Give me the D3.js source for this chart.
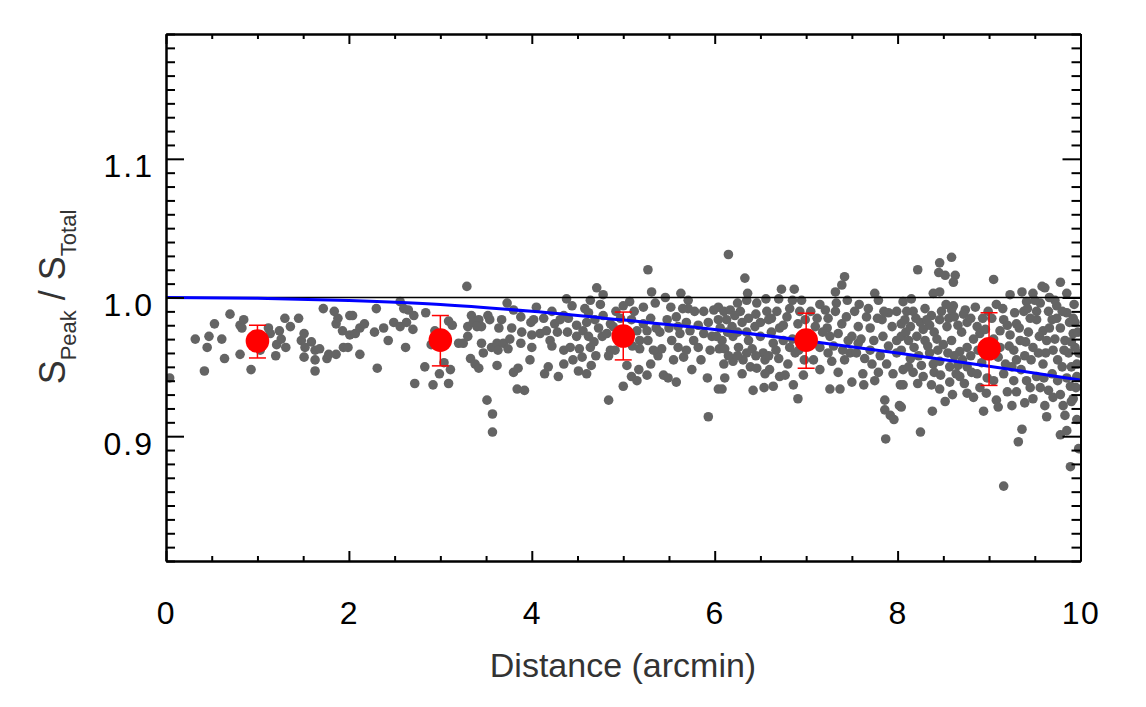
<!DOCTYPE html>
<html><head><meta charset="utf-8">
<script src="https://cdn.jsdelivr.net/npm/d3@7"></script>
<style>html,body{margin:0;padding:0;background:#fff;} svg{display:block;font-family:"Liberation Sans",Arial,Helvetica,sans-serif;}</style>
</head><body><svg id="chart" width="1146" height="707"></svg>
<script>
const xMajorTicks = [0, 2, 4, 6, 8, 10];
const xTickLabels = ["0", "2", "4", "6", "8", "10"];
const yMajorTicks = [0.9, 1.0, 1.1];
const yTickLabels = ["0.9", "1.0", "1.1"];
const binCenters = [1, 3, 5, 7, 9];
const binMeans = [0.9686, 0.9693, 0.9722, 0.9693, 0.963];
const binLow = [0.9564, 0.9507, 0.955, 0.949, 0.9366];
const binHigh = [0.980, 0.987, 0.9895, 0.9887, 0.989];
const modelDist = [0, 1, 2, 3, 4, 5, 6, 7, 8, 9, 10];
const modelRatio = [1.0, 0.9994, 0.9978, 0.995, 0.990, 0.9837, 0.977, 0.9688, 0.960, 0.9505, 0.9404];
const referenceLevel = 1.0;
const grayPoints = [
[0.04,0.942],[0.32,0.970],[0.42,0.947],[0.45,0.964],[0.47,0.972],[0.53,0.981],[0.61,0.970],[0.64,0.956],[0.70,0.988],[0.81,0.959],
[0.81,0.980],[0.85,0.984],[0.83,0.978],[0.93,0.948],[1.03,0.962],[1.12,0.978],[1.14,0.974],[1.20,0.958],[1.21,0.966],[1.24,0.976],
[1.26,0.970],[1.30,0.985],[1.31,0.964],[1.36,0.979],[1.45,0.985],[1.48,0.969],[1.51,0.974],[1.51,0.957],[1.52,0.964],[1.59,0.968],
[1.63,0.962],[1.63,0.955],[1.63,0.947],[1.68,0.963],[1.72,0.992],[1.76,0.956],[1.78,0.959],[1.84,0.990],[1.86,0.981],[1.88,0.985],
[1.86,0.959],[1.93,0.976],[1.94,0.964],[1.99,0.964],[2.01,0.987],[2.01,0.973],
[3.29,1.008],[2.56,0.997],[2.60,0.992],[2.65,0.991],[2.71,0.987],[2.30,0.992],[2.04,0.987],[2.07,0.974],[2.12,0.978],[2.17,0.981],
[2.12,0.959],[2.28,0.975],[2.38,0.978],[2.43,0.969],[2.49,0.982],[2.56,0.979],[2.63,0.982],[2.70,0.977],[2.62,0.964],[2.31,0.949],
[2.84,0.989],[2.90,0.966],[2.94,0.976],[2.83,0.950],[2.72,0.938],[2.92,0.937],[2.99,0.945],[3.04,0.953],[3.09,0.938],[3.11,0.948],
[3.09,0.983],[3.13,0.980],[3.20,0.967],[3.25,0.967],[3.30,0.972],[3.30,0.979],[3.34,0.987],[3.36,0.982],[3.42,0.984],[3.45,0.979],
[3.40,0.979],[3.33,0.956],[3.38,0.952],[3.42,0.949],[3.45,0.967],[3.47,0.960],[3.52,0.987],[3.54,0.984],[3.56,0.964],[3.62,0.967],
[3.63,0.962],[3.64,0.978],[3.67,0.984],[3.73,0.996],[3.69,0.967],[3.74,0.963],[3.78,0.978],[3.76,0.970],[3.80,0.991],[3.88,0.986],
[3.89,0.975],[3.88,0.967],[3.62,0.951],[3.80,0.946],[3.85,0.949],[3.84,0.934],[3.92,0.933],[3.51,0.926],[3.57,0.916],[3.57,0.903],
[3.99,0.982],[4.00,0.973],[4.00,0.964],[3.98,0.955],
[5.27,1.020],[4.71,1.007],[4.78,1.002],[4.64,0.998],[4.38,0.999],[4.44,0.994],[5.31,1.004],[5.35,0.996],[5.46,1.000],[5.63,1.003],
[5.71,0.998],[5.71,0.992],[5.07,0.997],[5.00,0.994],[5.22,0.993],[4.02,0.984],[4.13,0.985],[4.09,0.974],[4.16,0.976],[4.20,0.969],
[4.22,0.965],[4.25,0.981],[4.31,0.984],[4.35,0.987],[4.39,0.975],[4.35,0.962],[4.42,0.964],[4.49,0.972],[4.52,0.963],[4.55,0.957],
[4.49,0.980],[4.56,0.976],[4.60,0.982],[4.62,0.972],[4.64,0.964],[4.62,0.989],[4.69,0.984],[4.73,0.978],[4.77,0.972],[4.78,0.987],
[4.86,0.981],[4.82,0.974],[4.86,0.962],[4.84,0.958],[4.91,0.962],[4.89,0.979],[5.09,0.984],[5.15,0.976],[5.18,0.969],[5.18,0.963],
[5.22,0.981],[5.26,0.976],[5.27,0.969],[5.04,0.951],[5.17,0.948],[5.09,0.943],[5.15,0.940],[5.26,0.944],[5.00,0.936],[4.84,0.926],
[4.65,0.951],[4.51,0.947],[4.29,0.943],[4.14,0.945],[4.18,0.950],[5.38,0.958],[5.42,0.963],[5.44,0.944],[5.49,0.942],[5.58,0.939],
[5.40,0.975],[5.48,0.984],[5.53,0.969],[5.58,0.986],[5.60,0.979],[5.62,0.974],[5.60,0.964],[5.66,0.957],[5.69,0.982],[5.73,0.976],
[5.77,0.969],[5.69,0.962],[5.75,0.948],[5.82,0.964],[5.88,0.990],[5.88,0.974],[5.93,0.982],[5.97,0.972],[5.99,0.991],[5.92,0.942],
[5.93,0.914],[6.04,0.984],[6.05,0.963],[6.04,0.934],
[4.05,0.993],[4.22,0.990],[4.28,0.975],[4.40,0.985],[4.45,0.955],[4.58,0.992],[4.68,0.968],[4.70,0.958],[4.75,0.995],[4.92,0.990],
[4.95,0.972],[4.97,0.985],[5.05,0.975],[5.10,0.965],[5.12,0.990],[5.30,0.985],[5.33,0.962],[5.36,0.978],[5.50,0.978],[5.52,0.993],
[5.65,0.992],[5.78,0.990],[5.82,0.980],[5.85,0.955],[5.95,0.962],[5.55,0.955],[5.30,0.952],[4.60,0.945],[4.35,0.952],
[6.15,1.031],[6.33,1.014],[6.36,1.003],[6.35,0.998],[6.46,0.996],[6.56,0.999],[6.70,0.999],[6.73,1.006],[6.87,1.006],[6.85,0.998],
[7.42,1.015],[7.39,1.009],[7.32,1.004],[7.33,0.996],[7.75,1.003],[7.79,0.998],[6.04,0.993],[6.10,0.990],[6.17,0.991],[6.22,0.987],
[6.13,0.984],[6.06,0.978],[6.19,0.979],[6.30,0.982],[6.37,0.985],[6.44,0.979],[6.57,0.990],[6.59,0.984],[6.08,0.969],[6.11,0.963],
[6.20,0.972],[6.26,0.964],[6.37,0.969],[6.41,0.963],[6.50,0.972],[6.53,0.960],[6.62,0.975],[6.64,0.967],[6.71,0.978],[6.75,0.969],
[6.79,0.986],[6.82,0.992],[6.82,0.964],[6.91,0.981],[6.88,0.960],[6.10,0.952],[6.20,0.954],[6.30,0.945],[6.31,0.955],[6.39,0.950],
[6.46,0.949],[6.55,0.955],[6.59,0.958],[6.70,0.956],[6.80,0.952],[6.71,0.943],[6.77,0.944],[6.86,0.937],[6.91,0.927],[6.08,0.934],
[6.11,0.942],[6.42,0.933],[6.54,0.935],[6.64,0.936],[6.97,0.944],[6.99,0.984],[7.10,0.979],[7.15,0.964],[7.21,0.991],[7.24,0.985],
[7.23,0.978],[7.26,0.972],[7.24,0.960],[7.28,0.954],[7.26,0.934],[7.37,0.934],[7.35,0.946],[7.35,0.974],[7.39,0.981],[7.32,0.990],
[7.44,0.986],[7.46,0.969],[7.48,0.960],[7.50,0.972],[7.53,0.990],[7.57,0.979],[7.57,0.967],[7.50,0.939],[7.63,0.937],[7.64,0.956],
[7.66,0.986],[7.68,0.992],[7.70,0.978],[7.74,0.969],[7.75,0.940],[7.79,0.946],[7.81,0.958],[7.83,0.984],[7.84,0.972],[7.86,0.926],
[7.86,0.919],[7.92,0.915],[7.96,0.912],[7.87,0.898],[7.90,0.989],[7.99,0.990],[7.94,0.979],[7.99,0.969],[7.99,0.960],[7.95,0.945],
[8.03,0.937],[8.02,0.922],[8.04,0.981],[8.04,0.962],
[6.02,0.972],[6.14,0.975],[6.25,0.975],[6.28,0.990],[6.35,0.975],[6.45,0.988],[6.50,0.982],[6.62,0.985],[6.68,0.990],[6.75,0.980],
[6.93,0.990],[6.95,0.972],[6.92,0.962],[6.98,0.955],[6.15,0.958],[6.25,0.958],[6.35,0.960],[6.45,0.958],[6.60,0.948],[6.67,0.962],
[6.85,0.970],[7.05,0.990],[7.05,0.968],[7.12,0.985],[7.18,0.975],[7.08,0.955],[7.15,0.948],[7.30,0.965],[7.40,0.962],[7.42,0.955],
[7.55,0.960],[7.60,0.970],[7.62,0.945],[7.70,0.962],[7.72,0.952],[7.78,0.985],[7.85,0.990],[7.90,0.965],[7.88,0.952],[7.58,0.995],
[7.45,0.998],[7.15,0.995],[6.95,0.998],[6.25,0.996],[6.55,0.945],
[8.59,1.029],[8.46,1.025],[8.22,1.020],[8.45,1.018],[8.52,1.016],[8.63,1.016],[8.61,1.011],[9.05,1.013],[9.78,1.011],[9.58,1.008],
[8.39,1.003],[8.46,1.004],[9.23,1.002],[9.36,1.004],[9.48,1.003],[9.61,1.007],[9.85,1.003],[8.06,0.997],[8.15,0.999],[8.30,0.992],
[8.17,0.990],[8.37,0.987],[8.61,0.994],[8.59,0.991],[8.74,0.991],[8.99,0.990],[9.16,0.984],[9.28,0.989],[9.41,0.997],[9.56,0.996],
[9.74,0.994],[9.85,0.989],[9.94,0.982],[8.08,0.984],[8.14,0.979],[8.25,0.982],[8.35,0.980],[8.46,0.984],[8.56,0.985],[8.54,0.979],
[8.66,0.980],[8.76,0.982],[8.87,0.979],[8.90,0.974],[8.83,0.970],[8.04,0.972],[8.12,0.969],[8.21,0.972],[8.30,0.969],[8.43,0.970],
[8.50,0.966],[8.59,0.969],[8.68,0.961],[8.76,0.964],[8.14,0.956],[8.23,0.958],[8.35,0.960],[8.39,0.952],[8.46,0.954],[8.57,0.950],
[8.66,0.951],[8.76,0.950],[8.81,0.946],[8.06,0.948],[8.17,0.946],[8.28,0.943],[8.37,0.937],[8.46,0.934],[8.57,0.939],[8.68,0.943],
[8.06,0.937],[8.52,0.925],[8.76,0.931],[8.83,0.928],[8.94,0.918],[8.97,0.931],[9.08,0.926],[9.10,0.921],[9.25,0.922],[9.39,0.924],
[9.48,0.927],[8.38,0.918],[8.04,0.921],[8.25,0.903],[9.36,0.905],[9.32,0.896],[9.16,0.864],[9.56,0.935],[9.65,0.933],[9.70,0.928],
[9.61,0.922],[9.63,0.914],[9.81,0.922],[9.92,0.927],[9.78,0.901],[9.85,0.904],[9.89,0.878],[9.98,0.891],[9.12,0.976],[9.23,0.973],
[9.30,0.981],[9.34,0.969],[9.27,0.962],[9.39,0.958],[9.43,0.975],[9.48,0.964],[9.52,0.984],[9.59,0.976],[9.63,0.969],[9.69,0.984],
[9.70,0.962],[9.78,0.978],[9.83,0.969],[9.87,0.960],[9.92,0.974],[9.94,0.964],[9.96,0.952],[9.59,0.952],[9.69,0.945],[9.52,0.943],
[9.41,0.940],[9.27,0.940],[9.16,0.945],[9.85,0.942],[9.96,0.943],[9.89,0.936],[9.12,0.964],
[8.10,0.990],[8.20,0.985],[8.28,0.977],[8.33,0.965],[8.40,0.975],[8.18,0.964],[8.26,0.951],[8.44,0.962],[8.48,0.990],[8.32,0.984],
[8.09,0.975],[8.12,0.950],[8.40,0.946],[8.22,0.938],[8.47,0.944],
[8.53,0.995],[8.62,0.986],[8.70,0.975],[8.72,0.988],[8.80,0.985],[8.85,0.993],[8.93,0.985],[8.96,0.977],[8.62,0.958],[8.71,0.955],
[8.80,0.958],[8.88,0.962],[8.95,0.965],[8.92,0.953],[8.87,0.945],[8.98,0.942],[8.55,0.960],[8.64,0.945],[8.73,0.938],[8.90,0.935],[8.60,0.930],
[9.03,0.985],[9.08,0.995],[9.15,0.992],[9.20,0.980],[9.05,0.970],[9.10,0.957],[9.18,0.952],[9.22,0.965],[9.30,0.955],[9.35,0.948],
[9.25,0.950],[9.40,0.968],[9.45,0.985],[9.38,0.990],[9.33,0.978],[9.46,0.955],[9.20,0.932],[9.30,0.932],[9.45,0.935],[9.05,0.940],[9.42,0.992],
[9.52,0.990],[9.55,0.972],[9.54,0.960],[9.62,0.960],[9.65,0.990],[9.66,0.978],[9.72,0.970],[9.75,0.955],[9.74,0.985],[9.80,0.990],
[9.82,0.962],[9.88,0.982],[9.90,0.968],[9.93,0.995],[9.97,0.975],[9.98,0.960],[9.80,0.950],[9.90,0.950],[9.75,0.940],[9.60,0.942],
[9.92,0.985],[9.72,0.998],[9.66,1.000],[9.50,0.998],[9.95,0.935],[9.78,0.930],[9.90,0.925],[9.96,0.912],[9.83,0.915]
];

const svg = d3.select("#chart");
svg.append("rect").attr("width", 1146).attr("height", 707).attr("fill", "#fff");

const x = d3.scaleLinear().domain([0, 10]).range([166, 1080.5]);
const y = d3.scaleLinear().domain([0.81, 1.19]).range([561, 34]);

const plot = svg.append("g");
const clip = svg.append("clipPath").attr("id", "clip");
clip.append("rect").attr("x", 166).attr("y", 34).attr("width", 914.5).attr("height", 527);
const inner = plot.append("g").attr("clip-path", "url(#clip)");

// gray scatter
inner.selectAll("circle.dot").data(grayPoints).join("circle")
  .attr("class", "dot")
  .attr("cx", d => x(d[0])).attr("cy", d => y(d[1]))
  .attr("r", 4.8).attr("fill", "#646464");

// reference line
inner.append("line")
  .attr("x1", x(0)).attr("x2", x(10))
  .attr("y1", y(referenceLevel)).attr("y2", y(referenceLevel))
  .attr("stroke", "#000").attr("stroke-width", 1.6);

// model curve
const line = d3.line().x((d, i) => x(modelDist[i])).y(d => y(d)).curve(d3.curveMonotoneX);
inner.append("path").datum(modelRatio)
  .attr("d", line).attr("fill", "none").attr("stroke", "#0000ff").attr("stroke-width", 3);

// binned means with error bars
const bins = binCenters.map((c, i) => ({c, m: binMeans[i], lo: binLow[i], hi: binHigh[i]}));
const eb = inner.append("g").attr("stroke", "#ff0000").attr("stroke-width", 1.5);
bins.forEach(b => {
  eb.append("line").attr("x1", x(b.c)).attr("x2", x(b.c)).attr("y1", y(b.lo)).attr("y2", y(b.hi));
  eb.append("line").attr("x1", x(b.c) - 8.5).attr("x2", x(b.c) + 8.5).attr("y1", y(b.lo)).attr("y2", y(b.lo));
  eb.append("line").attr("x1", x(b.c) - 8.5).attr("x2", x(b.c) + 8.5).attr("y1", y(b.hi)).attr("y2", y(b.hi));
});
inner.selectAll("circle.bin").data(bins).join("circle")
  .attr("class", "bin").attr("cx", d => x(d.c)).attr("cy", d => y(d.m))
  .attr("r", 11.8).attr("fill", "#ff0000");

// axes
const xMinor = d3.range(0, 21).map(i => i * 0.5).filter(v => !xMajorTicks.includes(v));
const yMinor = d3.range(81, 120).map(i => i / 100).filter(v => !yMajorTicks.some(m => Math.abs(m - v) < 1e-6));

function styleAxis(g) {
  g.selectAll("path.domain").attr("stroke", "#000").attr("stroke-width", 2);
  g.selectAll(".tick line").attr("stroke", "#000").attr("stroke-width", 2);
}

// bottom
const gb1 = svg.append("g").attr("transform", "translate(0,561)")
  .call(d3.axisBottom(x).tickValues(xMinor).tickSize(-5).tickSizeOuter(0).tickFormat(""));
styleAxis(gb1);
const gb2 = svg.append("g").attr("transform", "translate(0,561)")
  .call(d3.axisBottom(x).tickValues(xMajorTicks).tickSize(-10).tickSizeOuter(0).tickPadding(40)
    .tickFormat((d, i) => xTickLabels[i]));
styleAxis(gb2);
gb2.selectAll("text").attr("font-size", 32).attr("fill", "#000").attr("letter-spacing", "1.5px")
  .attr("font-family", "Liberation Sans, Arial, sans-serif");

// top
const gt1 = svg.append("g").attr("transform", "translate(0,34)")
  .call(d3.axisTop(x).tickValues(xMinor).tickSize(-5).tickSizeOuter(0).tickFormat(""));
styleAxis(gt1);
const gt2 = svg.append("g").attr("transform", "translate(0,34)")
  .call(d3.axisTop(x).tickValues(xMajorTicks).tickSize(-10).tickSizeOuter(0).tickFormat(""));
styleAxis(gt2);

// left
const gl1 = svg.append("g").attr("transform", "translate(166,0)")
  .call(d3.axisLeft(y).tickValues(yMinor).tickSize(-9).tickSizeOuter(0).tickFormat(""));
styleAxis(gl1);
const gl2 = svg.append("g").attr("transform", "translate(166,0)")
  .call(d3.axisLeft(y).tickValues(yMajorTicks).tickSize(-18).tickSizeOuter(0).tickPadding(12)
    .tickFormat((d, i) => yTickLabels[i]));
styleAxis(gl2);
gl2.selectAll("text").attr("font-size", 32).attr("fill", "#000").attr("dy", "0.56em")
  .attr("letter-spacing", "2px").attr("font-family", "Liberation Sans, Arial, sans-serif");

// right
const gr1 = svg.append("g").attr("transform", "translate(1080.5,0)")
  .call(d3.axisRight(y).tickValues(yMinor).tickSize(-9).tickSizeOuter(0).tickFormat(""));
styleAxis(gr1);
const gr2 = svg.append("g").attr("transform", "translate(1080.5,0)")
  .call(d3.axisRight(y).tickValues(yMajorTicks).tickSize(-18).tickSizeOuter(0).tickFormat(""));
styleAxis(gr2);

// axis titles
svg.append("text").attr("x", 623).attr("y", 677).attr("text-anchor", "middle")
  .attr("font-size", 34).attr("fill", "#333").text("Distance (arcmin)");

const yt = svg.append("text").attr("transform", "translate(65,297) rotate(-90)")
  .attr("text-anchor", "middle").attr("font-size", 36).attr("fill", "#333");
yt.append("tspan").text("S");
yt.append("tspan").attr("font-size", 22).attr("dy", 11).text("Peak");
yt.append("tspan").attr("dy", -11).text(" / S");
yt.append("tspan").attr("font-size", 22).attr("dy", 11).text("Total");
</script></body></html>
